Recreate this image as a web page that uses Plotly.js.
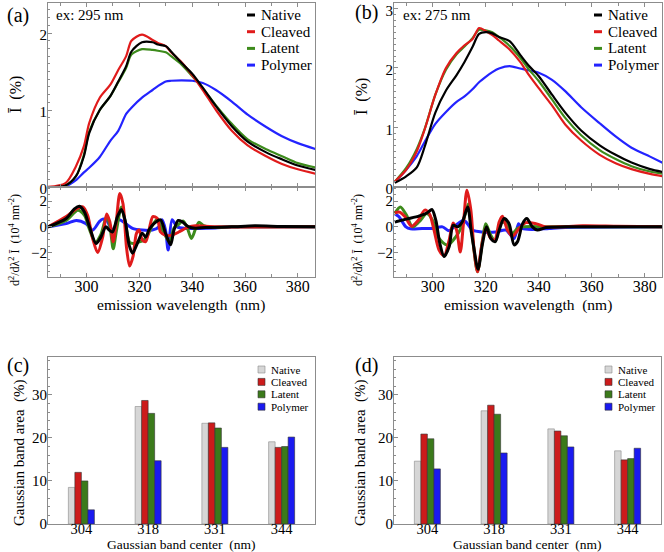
<!DOCTYPE html>
<html>
<head>
<meta charset="utf-8">
<script src="https://cdn.plot.ly/plotly-3.0.1.min.js"></script>
<style>
  body { margin: 0; background: #fff; }
  #plot { width: 664px; height: 552px; }
</style>
</head>
<body>
<div id="plot"></div>
<script>
// series names and colours
const names = ['Native', 'Cleaved', 'Latent', 'Polymer'];
const lineColors = ['#000000', '#e01b1b', '#3d8b1c', '#2323ff'];
const barColors = ['#d6d6d6', '#cc1b1b', '#3b7a1b', '#1a1af0'];

// (a) emission spectra, ex 295 nm
const wlA = [285, 292, 296, 299, 301, 305, 309, 312, 315, 317, 321, 325, 327, 330, 332, 336, 340, 344, 349, 355, 361, 368, 374, 380, 387];
const nativeA = [0, 0.02, 0.14, 0.40, 0.70, 1.0, 1.18, 1.37, 1.57, 1.76, 1.88, 1.88, 1.85, 1.83, 1.76, 1.61, 1.47, 1.29, 1.05, 0.79, 0.59, 0.45, 0.36, 0.28, 0.22];
const cleavedA = [0, 0.05, 0.27, 0.53, 0.83, 1.16, 1.33, 1.52, 1.70, 1.90, 1.98, 1.91, 1.87, 1.83, 1.75, 1.62, 1.45, 1.26, 1.0, 0.73, 0.54, 0.40, 0.30, 0.23, 0.17];
const latentA = [0, 0.02, 0.14, 0.42, 0.72, 1.0, 1.18, 1.36, 1.55, 1.72, 1.79, 1.78, 1.77, 1.75, 1.70, 1.59, 1.44, 1.28, 1.06, 0.82, 0.62, 0.49, 0.40, 0.31, 0.25];
const polymerA = [0, 0.01, 0.09, 0.19, 0.25, 0.39, 0.60, 0.73, 0.95, 1.03, 1.16, 1.26, 1.31, 1.37, 1.38, 1.385, 1.38, 1.35, 1.26, 1.11, 0.94, 0.78, 0.66, 0.57, 0.49];

// (b) emission spectra, ex 275 nm
const wlB = [285.7, 290, 294, 297, 301, 305, 309, 312, 315, 317.5, 320, 322.5, 325, 329, 333, 336, 340, 345, 350, 356, 363, 369, 375, 382, 387];
const nativeB = [0.07, 0.18, 0.33, 0.68, 1.25, 1.62, 1.88, 2.10, 2.35, 2.57, 2.60, 2.58, 2.52, 2.45, 2.22, 2.05, 1.86, 1.55, 1.25, 0.95, 0.70, 0.54, 0.41, 0.30, 0.25];
const cleavedB = [0.09, 0.29, 0.60, 0.97, 1.55, 2.0, 2.25, 2.38, 2.48, 2.67, 2.62, 2.55, 2.46, 2.31, 2.10, 1.90, 1.66, 1.37, 1.05, 0.78, 0.54, 0.40, 0.30, 0.22, 0.18];
const latentB = [0.09, 0.32, 0.64, 0.98, 1.55, 1.97, 2.23, 2.36, 2.50, 2.64, 2.63, 2.60, 2.52, 2.37, 2.17, 1.99, 1.78, 1.47, 1.16, 0.87, 0.62, 0.47, 0.35, 0.26, 0.22];
const polymerB = [0.08, 0.29, 0.52, 0.76, 1.06, 1.26, 1.43, 1.52, 1.64, 1.76, 1.85, 1.93, 1.99, 2.03, 1.99, 1.96, 1.92, 1.80, 1.61, 1.34, 1.07, 0.85, 0.66, 0.51, 0.40];

// (a) second derivative, 10^4 nm^-2
const d2NativeA_x = [285.4, 292.3, 295.4, 297.3, 299.2, 301.1, 303.6, 305.4, 307.3, 308.6, 309.8, 311.7, 313.2, 314.6, 316.1, 317.4, 319.2, 321.1, 322.4, 323.6, 325.5, 328, 329.9, 331.8, 333.1, 334.7, 336.2, 338.7, 341.2, 345, 355, 363.7, 373.7, 387];
const d2NativeA_y = [0, 0.65, 1.4, 1.6, 1.15, 0, -1.3, -0.8, 0, -0.25, -0.4, 0.8, 1.35, 0.5, -1.4, -2.05, -1.3, -0.5, -0.8, -0.25, 0.25, 0.55, -0.5, -1.4, -0.25, 0.5, 0.4, 0, -0.1, -0.05, 0, 0.08, 0.03, 0];
const d2CleavedA_x = [285.4, 292.3, 296.1, 298.6, 300.4, 302.3, 304.2, 306.1, 307.6, 308.8, 310.1, 311.3, 312.6, 313.8, 315.1, 316.3, 317.6, 318.9, 319.9, 321.1, 322.4, 323.9, 325.1, 326.8, 328, 329.9, 332.4, 334.9, 338.7, 341.2, 345, 350, 387];
const d2CleavedA_y = [0, 0.8, 1.4, 1.55, 0.9, -0.9, -2.0, -0.8, 1.0, 0.4, -1.15, 0.5, 2.6, 1.8, -1.55, -3.05, -2.3, -0.5, -0.25, -1.0, -1.15, 0, 0.8, 0.65, -0.4, -0.65, -0.65, -0.4, 0, 0.08, 0.05, 0, 0];
const d2LatentA_x = [285.4, 292.3, 296.7, 299.2, 301.1, 303.3, 305.4, 307.6, 308.8, 310.1, 311.3, 313.2, 314.8, 316.3, 317.6, 319.2, 321.1, 323, 324.9, 326.8, 328.6, 331.4, 333.1, 334.9, 336.5, 338, 339.7, 341.2, 342.5, 344.3, 347.4, 355, 387];
const d2LatentA_y = [0, 0.5, 1.3, 0.9, -0.2, -1.2, -0.6, 0.8, 0.1, -1.7, -0.3, 1.55, 0.2, -1.2, -1.3, -1.2, -1.1, -0.7, 0.1, 0.6, -0.2, -1.15, -0.1, 0.2, 0.45, 0, -0.9, -0.2, 0.35, 0.1, -0.05, 0, 0];
const d2PolymerA_x = [285.4, 292.3, 296.1, 299.8, 302.3, 304.8, 306.1, 307.6, 309.8, 312.3, 314.8, 317.4, 321.1, 324.9, 327.4, 328.6, 329.9, 330.9, 332.4, 334.3, 337.4, 342.4, 348.7, 355, 387];
const d2PolymerA_y = [0, 0.25, 0.5, 0.25, -0.25, 0.4, 0.6, 0.5, -0.25, 0.55, 0.25, -0.12, -0.25, -0.25, 0, 0.55, -0.25, -1.8, 0.55, 0, -0.12, -0.12, -0.08, 0, 0];

// (b) second derivative, 10^4 nm^-2
const d2NativeB_x = [285.7, 290, 295, 298, 299.7, 301.2, 302.7, 304.3, 306.2, 307.7, 309.4, 311.2, 313.2, 314.5, 315.5, 317.1, 318.8, 320.3, 321.9, 323.6, 325.1, 326.9, 328.8, 330.7, 332, 333.9, 335.5, 337.6, 339.5, 342.7, 350.2, 387];
const d2NativeB_y = [0.38, 0.6, 0.85, 1.1, 1.35, 0.5, -1.3, -2.3, -1.55, 0.12, 0, 0.4, 1.55, -0.3, -1.6, -3.3, -1.3, 0, -0.9, -1.15, -0.25, 0.65, 0.25, -1.4, -1.15, 0.25, 0.65, 0, -0.25, -0.05, 0, 0];
const d2CleavedB_x = [285.7, 287.5, 289.5, 292, 294.5, 297, 298.8, 300.5, 302.4, 304.3, 306.2, 307.7, 309, 310.4, 311.6, 312.9, 314.4, 315.6, 316.9, 318.4, 320, 321.9, 323.4, 325.1, 326.3, 328.2, 330.1, 332.6, 335.1, 338.9, 342.7, 347.7, 356.5, 369, 387];
const d2CleavedB_y = [1.1, 1.15, 0.8, 0.05, 0.5, 1.3, 1.0, -0.25, -1.8, -2.25, -1.03, 0.3, -0.25, -1.95, 0.25, 2.85, 1.3, -1.8, -3.5, -1.55, -0.12, -0.9, -1.03, 0.4, 0.83, -0.25, -0.72, -0.12, 0.33, 0.25, 0, 0, 0.08, 0.05, 0];
const d2LatentB_x = [285.7, 287.8, 290, 292.4, 294.9, 297.8, 300, 302.4, 305.6, 308.7, 310.6, 312.5, 313.5, 315, 316.9, 318.8, 320, 321.9, 323.6, 325.7, 327.6, 330.1, 332, 334, 345, 387];
const d2LatentB_y = [1.05, 1.55, 0.95, 0, 0.4, 1.03, 0.5, -0.9, -1.42, -0.78, -0.12, 1.15, 1.8, -0.78, -3.5, -1.03, 0.25, -0.65, -1.15, 0.4, 0.25, -0.5, -0.12, 0, 0, 0];
const d2PolymerB_x = [285.7, 287.3, 289.9, 291.6, 296, 299.9, 303.7, 306.2, 308.7, 311.5, 312.5, 315, 318.8, 323.8, 327.6, 330.7, 332.4, 333.9, 337.6, 343.9, 350, 387];
const d2PolymerB_y = [1.03, 0.78, 0, -0.15, -0.12, -0.12, 0, -0.3, 0.12, 0.5, 0.4, -0.25, -0.4, -0.4, -0.25, -0.9, 0.25, -0.12, -0.2, -0.12, -0.05, 0];

// (c), (d) gaussian band areas (%)
const bandCenters = ['304', '318', '331', '344'];
const areaC = {
  Native: [8.5, 27.3, 23.4, 19.1],
  Cleaved: [12.0, 28.7, 23.5, 17.8],
  Latent: [10.0, 25.7, 22.3, 18.0],
  Polymer: [3.3, 14.7, 17.8, 20.2]
};
const areaD = {
  Native: [14.6, 26.3, 22.1, 17.0],
  Cleaved: [20.9, 27.6, 21.6, 14.9],
  Latent: [19.8, 25.5, 20.5, 15.2],
  Polymer: [12.8, 16.5, 17.9, 17.6]
};

const serif = '"Liberation Serif", "Times New Roman", serif';
const frame = '#8c8c8c';
const W = 664, H = 552;
const fx = px => px / W;
const fy = py => 1 - py / H;

let data = [];

function addSpectra(xs, ys, xa, ya) {
  // polymer first so native ends up on top
  for (let i = 3; i >= 0; i--) {
    data.push({
      x: xs, y: ys[i], xaxis: xa, yaxis: ya, type: 'scatter', mode: 'lines',
      name: names[i], showlegend: false,
      line: { color: lineColors[i], width: 2.2, shape: 'spline', smoothing: 0.8 }
    });
  }
}

function addDeriv(pairs, xa, ya) {
  for (let i = 3; i >= 0; i--) {
    data.push({
      x: pairs[i][0], y: pairs[i][1], xaxis: xa, yaxis: ya, type: 'scatter', mode: 'lines',
      name: names[i], showlegend: false,
      line: { color: lineColors[i], width: 3, shape: 'spline', smoothing: 0.8 }
    });
  }
}

function addBars(area, xa, ya) {
  names.forEach((n, i) => {
    data.push({
      x: bandCenters, y: area[n], xaxis: xa, yaxis: ya, type: 'bar',
      name: n, showlegend: false,
      marker: { color: barColors[i], line: { color: i == 0 ? '#8a8a8a' : '#333', width: 0.6 } }
    });
  });
}

addSpectra(wlA, [nativeA, cleavedA, latentA, polymerA], 'x', 'y');
addDeriv([[d2NativeA_x, d2NativeA_y], [d2CleavedA_x, d2CleavedA_y], [d2LatentA_x, d2LatentA_y], [d2PolymerA_x, d2PolymerA_y]], 'x2', 'y2');
addSpectra(wlB, [nativeB, cleavedB, latentB, polymerB], 'x3', 'y3');
addDeriv([[d2NativeB_x, d2NativeB_y], [d2CleavedB_x, d2CleavedB_y], [d2LatentB_x, d2LatentB_y], [d2PolymerB_x, d2PolymerB_y]], 'x4', 'y4');
addBars(areaC, 'x5', 'y5');
addBars(areaD, 'x6', 'y6');

function box(extra) {
  return Object.assign({
    showline: true, mirror: true, linecolor: frame, linewidth: 1,
    showgrid: false, zeroline: false, ticks: 'inside', ticklen: 4, tickcolor: frame,
    ticklabeloverflow: 'allow', ticklabelstandoff: -3,
    tickfont: { family: serif, size: 15, color: '#000' }
  }, extra);
}

const left = [fx(48), fx(315)];
const right = [fx(394), fx(662)];
const topY = [fy(187), fy(3)];
const midY = [fy(277), fy(187)];
const barY = [fy(524), fy(357)];

const wlAxis = (dom, anchor, labels) => box({
  domain: dom, anchor: anchor, range: [285.4, 386.5], mirror: 'allticks',
  tickvals: [300, 320, 340, 360, 380], showticklabels: labels, ticklabelstandoff: -5,
  tickfont: { family: serif, size: 16, color: '#000' },
  minor: { dtick: 10, tick0: 290, ticks: 'inside', ticklen: 3, tickcolor: frame }
});

const barX = (dom, anchor) => box({
  domain: dom, anchor: anchor, type: 'category', ticks: '', ticklabelstandoff: -8,
  tickfont: { family: serif, size: 14.5, color: '#000' }
});
const barYAxis = (dom, anchor) => box({
  domain: dom, anchor: anchor, range: [0, 38.8], tickvals: [0, 10, 20, 30],
  minor: { dtick: 2, ticks: 'inside', ticklen: 2, tickcolor: frame }
});

function ann(text, px, py, size, extra) {
  return Object.assign({
    text: text, x: fx(px), y: fy(py), xref: 'paper', yref: 'paper', showarrow: false,
    xanchor: 'center', yanchor: 'middle', borderpad: 0,
    font: { family: serif, size: size, color: '#000' }
  }, extra);
}

let annotations = [
  ann('(a)', 18, 15, 20),
  ann('(b)', 366, 13, 20),
  ann('(c)', 18, 365, 20),
  ann('(d)', 366, 365, 20),
  ann('ex: 295 nm', 55, 15, 15, { xanchor: 'left' }),
  ann('ex: 275 nm', 402, 15, 15, { xanchor: 'left' }),
  ann('Ī  (%)', 16, 95, 16, { textangle: -90 }),
  ann('Ī  (%)', 362, 97, 16, { textangle: -90 }),
  ann('d<sup>2</sup>/dλ<sup>2</sup> Ī  (10<sup>4</sup> nm<sup>-2</sup>)', 15, 240, 12, { textangle: -90 }),
  ann('d<sup>2</sup>/dλ<sup>2</sup> Ī  (10<sup>4</sup> nm<sup>-2</sup>)', 358, 240, 12, { textangle: -90 }),
  ann('emission wavelength  (nm)', 181, 305, 15.5),
  ann('emission wavelength  (nm)', 528, 305, 15.5),
  ann('Gaussian band area  (%)', 19, 453, 15, { textangle: -90 }),
  ann('Gaussian band area  (%)', 360, 453, 15, { textangle: -90 }),
  ann('Gaussian band center  (nm)', 181, 544, 13.5),
  ann('Gaussian band center  (nm)', 527, 544, 13.5)
];
let shapes = [];

// legends drawn by hand so the row spacing matches the figure
function lineLegend(keyX, topY, step) {
  names.forEach((n, i) => {
    const y = topY + i * step;
    shapes.push({ type: 'line', xref: 'paper', yref: 'paper', x0: fx(keyX), x1: fx(keyX + 8),
      y0: fy(y), y1: fy(y), line: { color: lineColors[i], width: 3 } });
    annotations.push(ann(n, keyX + 13, y, 15, { xanchor: 'left' }));
  });
}
function barLegend(keyX, topY, step) {
  names.forEach((n, i) => {
    const y = topY + i * step;
    shapes.push({ type: 'rect', xref: 'paper', yref: 'paper', x0: fx(keyX), x1: fx(keyX + 7),
      y0: fy(y + 3.5), y1: fy(y - 3.5), fillcolor: barColors[i],
      line: { color: i == 0 ? '#8a8a8a' : '#333', width: 0.6 } });
    annotations.push(ann(n, keyX + 12, y, 11, { xanchor: 'left' }));
  });
}
lineLegend(247, 15, 16.7);
lineLegend(594, 15, 16.7);
barLegend(258, 369.5, 12.4);
barLegend(605, 369.5, 12.4);

// top spectra axes: labels nudged up a little so "0" clears the "2" below
const specY = (anchor, range, vals) => box({
  domain: topY, anchor: anchor, range: range, tickvals: vals, ticklabelshift: 2,
  minor: { dtick: 0.1, ticks: 'inside', ticklen: 2, tickcolor: frame }
});

const layout = {
  width: W, height: H,
  margin: { l: 0, r: 0, t: 0, b: 0 },
  paper_bgcolor: '#fff', plot_bgcolor: '#fff',
  showlegend: false,
  barmode: 'group', bargap: 0.61, bargroupgap: 0,
  xaxis: wlAxis(left, 'y', false),
  yaxis: specY('x', [0, 2.39], [0, 1, 2]),
  xaxis2: wlAxis(left, 'y2', true),
  yaxis2: box({ domain: midY, anchor: 'x2', range: [-3.9, 3.1], tickvals: [-2, 0, 2],
    minor: { dtick: 0.5, ticks: 'inside', ticklen: 2, tickcolor: frame } }),
  xaxis3: wlAxis(right, 'y3', false),
  yaxis3: specY('x3', [0, 3.09], [0, 1, 2, 3]),
  xaxis4: wlAxis(right, 'y4', true),
  yaxis4: box({ domain: midY, anchor: 'x4', range: [-3.9, 3.1], tickvals: [-2, 0, 2],
    minor: { dtick: 0.5, ticks: 'inside', ticklen: 2, tickcolor: frame } }),
  xaxis5: barX(left, 'y5'),
  yaxis5: barYAxis(barY, 'x5'),
  xaxis6: barX([fx(394), fx(661)], 'y6'),
  yaxis6: barYAxis(barY, 'x6'),
  annotations: annotations,
  shapes: shapes
};

Plotly.newPlot('plot', data, layout, { staticPlot: true });
</script>
</body>
</html>
